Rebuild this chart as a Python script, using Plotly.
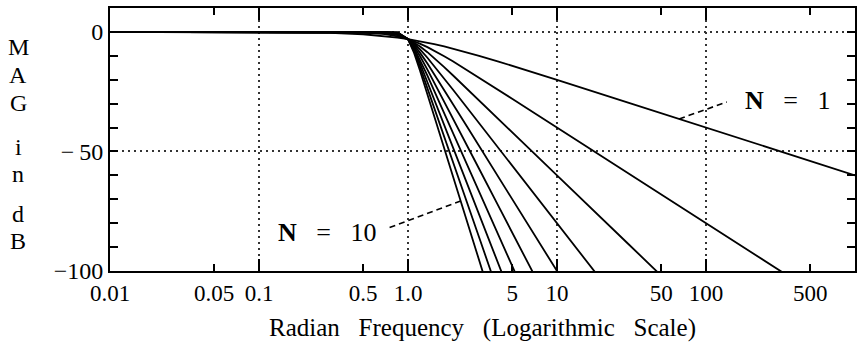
import numpy as np
import plotly.graph_objects as go

# Butterworth low-pass magnitude responses (dB), orders N = 1 .. 10
freq = [0.01, 0.3, 0.5, 0.7, 0.85, 1.0, 1.1, 1.2, 1.35, 1.5, 1.75, 2.0, 2.5, 3.0, 4.0,
        5.0, 7.0, 10.0, 30.0, 100.0, 300.0, 1000.0]

mag_n1 = [0.0, -0.37, -0.97, -1.73, -2.36, -3.01, -3.44, -3.87, -4.51, -5.12, -6.09, -6.99, -8.6, -10.0, -12.3,
          -14.15, -16.99, -20.04, -29.55, -40.0, -49.5, -60.0]
mag_n2 = [0.0, -0.04, -0.26, -0.93, -1.82, -3.01, -3.92, -4.88, -6.36, -7.83, -10.16, -12.3, -16.03, -19.14, -24.1,
          -27.96, -33.81, -40.0, -59.08, -80.0, -99.08, -120.0]
mag_n3 = [0.0, 0.0, -0.07, -0.48, -1.39, -3.01, -4.43, -6.0, -8.48, -10.93, -14.73, -18.13, -23.89, -28.63, -36.12,
          -41.94, -50.71, -60.0, -88.6, -120.0, None, None]
mag_n4 = [0.0, 0.0, -0.02, -0.24, -1.05, -3.01, -4.97, -7.24, -10.8, -14.25, -19.49, -24.1, -31.84, -38.17, -48.17,
          -55.92, -67.6, -80.0, -118.2, None, None, None]
mag_n5 = [0.0, 0.0, 0.0, -0.12, -0.78, -3.01, -5.56, -8.57, -13.25, -17.68, -24.32, -30.11, -39.8, -47.71, -60.21,
          -69.9, -84.51, -100.0, -147.7, None, None, None]
mag_n6 = [0.0, 0.0, 0.0, -0.06, -0.58, -3.01, -6.17, -9.96, -15.76, -21.16, -29.17, -36.12, -47.75, -57.25, -72.25,
          -83.9, -101.4, None, None, None, None, None]
mag_n7 = [0.0, 0.0, 0.0, -0.03, -0.42, -3.01, -6.81, -11.41, -18.31, -24.67, -34.03, -42.14, -55.71, -66.8, -84.29,
          -97.85, -118.3, None, None, None, None, None]
mag_n8 = [0.0, 0.0, 0.0, -0.01, -0.31, -3.01, -7.48, -12.9, -20.89, -28.18, -38.89, -48.16, -63.67, -76.3, -96.33,
          -111.8, None, None, None, None, None, None]
mag_n9 = [0.0, 0.0, 0.0, 0.0, -0.23, -3.01, -8.17, -14.41, -23.48, -31.7, -43.75, -54.19, -71.63, -85.9, -108.4,
          None, None, None, None, None, None, None]
mag_n10 = [0.0, 0.0, 0.0, 0.0, -0.17, -3.01, -8.88, -15.95, -26.08, -35.22, -48.61, -60.21, -79.59, -95.4, -120.4,
           None, None, None, None, None, None, None]

orders = [1, 2, 3, 4, 5, 6, 7, 8, 9, 10]
responses = [mag_n1, mag_n2, mag_n3, mag_n4, mag_n5, mag_n6, mag_n7, mag_n8, mag_n9, mag_n10]

x_tickvals = [0.01, 0.05, 0.1, 0.5, 1, 5, 10, 50, 100, 500]
x_ticktext = ["0.01", "0.05", "0.1", "0.5", "1.0", "5", "10", "50", "100", "500"]
x_decades = [0.01, 0.1, 1, 10, 100, 1000]
y_tickvals = [-100, -50, 0]
y_ticktext = ["\u2212100", "\u2212\u200950", "0"]

# leader lines for the order labels (frequency, dB)
lead_n1_x = [66.0, 138.0]
lead_n1_y = [-36.4, -29.3]
lead_n10_x = [2.26, 0.713]
lead_n10_y = [-70.7, -82.4]

SERIF = "Liberation Serif"
GAP = "\u00a0\u00a0\u00a0"

fig = go.Figure()

for n, mag in zip(orders, responses):
    fig.add_trace(go.Scatter(
        x=freq, y=mag, mode="lines", name=f"N = {n}",
        line=dict(color="black", width=1.8), connectgaps=False,
    ))

for lx, ly in [(lead_n1_x, lead_n1_y), (lead_n10_x, lead_n10_y)]:
    fig.add_trace(go.Scatter(
        x=lx, y=ly, mode="lines",
        line=dict(color="black", width=1.6, dash="6px,4px"),
    ))

fig.add_annotation(x=np.log10(350), y=-28.5, xref="x", yref="y",
                   text=f"<b>N</b>{GAP}={GAP}1",
                   showarrow=False, font=dict(family=SERIF, size=26, color="black"))
fig.add_annotation(x=np.log10(0.284), y=-84.1, xref="x", yref="y",
                   text=f"<b>N</b>{GAP}={GAP}10",
                   showarrow=False, font=dict(family=SERIF, size=26, color="black"))

# stacked y-axis caption, one letter per line
plot_left, plot_right = 110, 857
plot_top, plot_bot = 8, 271
cap_x = (18 - plot_left) / (plot_right - plot_left)
for letter, py in [("M", 47), ("A", 75), ("G", 103), ("i", 147), ("n", 174), ("d", 214), ("B", 241)]:
    fig.add_annotation(x=cap_x, y=(plot_bot - py) / (plot_bot - plot_top),
                       xref="paper", yref="paper", xanchor="center", yanchor="middle",
                       text=letter, showarrow=False, borderpad=0,
                       font=dict(family=SERIF, size=24, color="black"))

fig.update_layout(
    width=858, height=353,
    margin=dict(l=110, r=1, t=8, b=82),
    paper_bgcolor="white", plot_bgcolor="white",
    showlegend=False,
    font=dict(family=SERIF, size=23, color="black"),
    xaxis=dict(
        type="log", range=[-2, 3],
        tickmode="array", tickvals=x_tickvals, ticktext=x_ticktext,
        ticks="inside", ticklen=7, tickwidth=1.6, tickcolor="black",
        showline=True, linecolor="black", linewidth=2, mirror="allticks",
        showgrid=False, zeroline=False,
        tickfont=dict(family=SERIF, size=23),
        minor=dict(tickmode="array", tickvals=x_decades, ticks="inside", ticklen=12,
                   tickwidth=1.6, tickcolor="black", showgrid=True,
                   gridcolor="#333333", gridwidth=1.5, griddash="1.5px,4.5px"),
        title=dict(text=f"Radian{GAP}Frequency{GAP}(Logarithmic{GAP}Scale)",
                   font=dict(family=SERIF, size=25), standoff=14),
    ),
    yaxis=dict(
        range=[-100, 10],
        tickmode="array", tickvals=y_tickvals, ticktext=y_ticktext,
        ticks="inside", ticklen=8, tickwidth=1.6, tickcolor="black",
        showline=True, linecolor="black", linewidth=2, mirror="allticks",
        showgrid=True, gridcolor="#333333", gridwidth=1.5, griddash="1.5px,4.5px",
        zeroline=False,
        tickfont=dict(family=SERIF, size=24),
        minor=dict(tickmode="linear", tick0=0, dtick=10, ticks="inside", ticklen=8,
                   tickwidth=1.6, tickcolor="black", showgrid=False),
    ),
)

fig.write_html("out.html")
